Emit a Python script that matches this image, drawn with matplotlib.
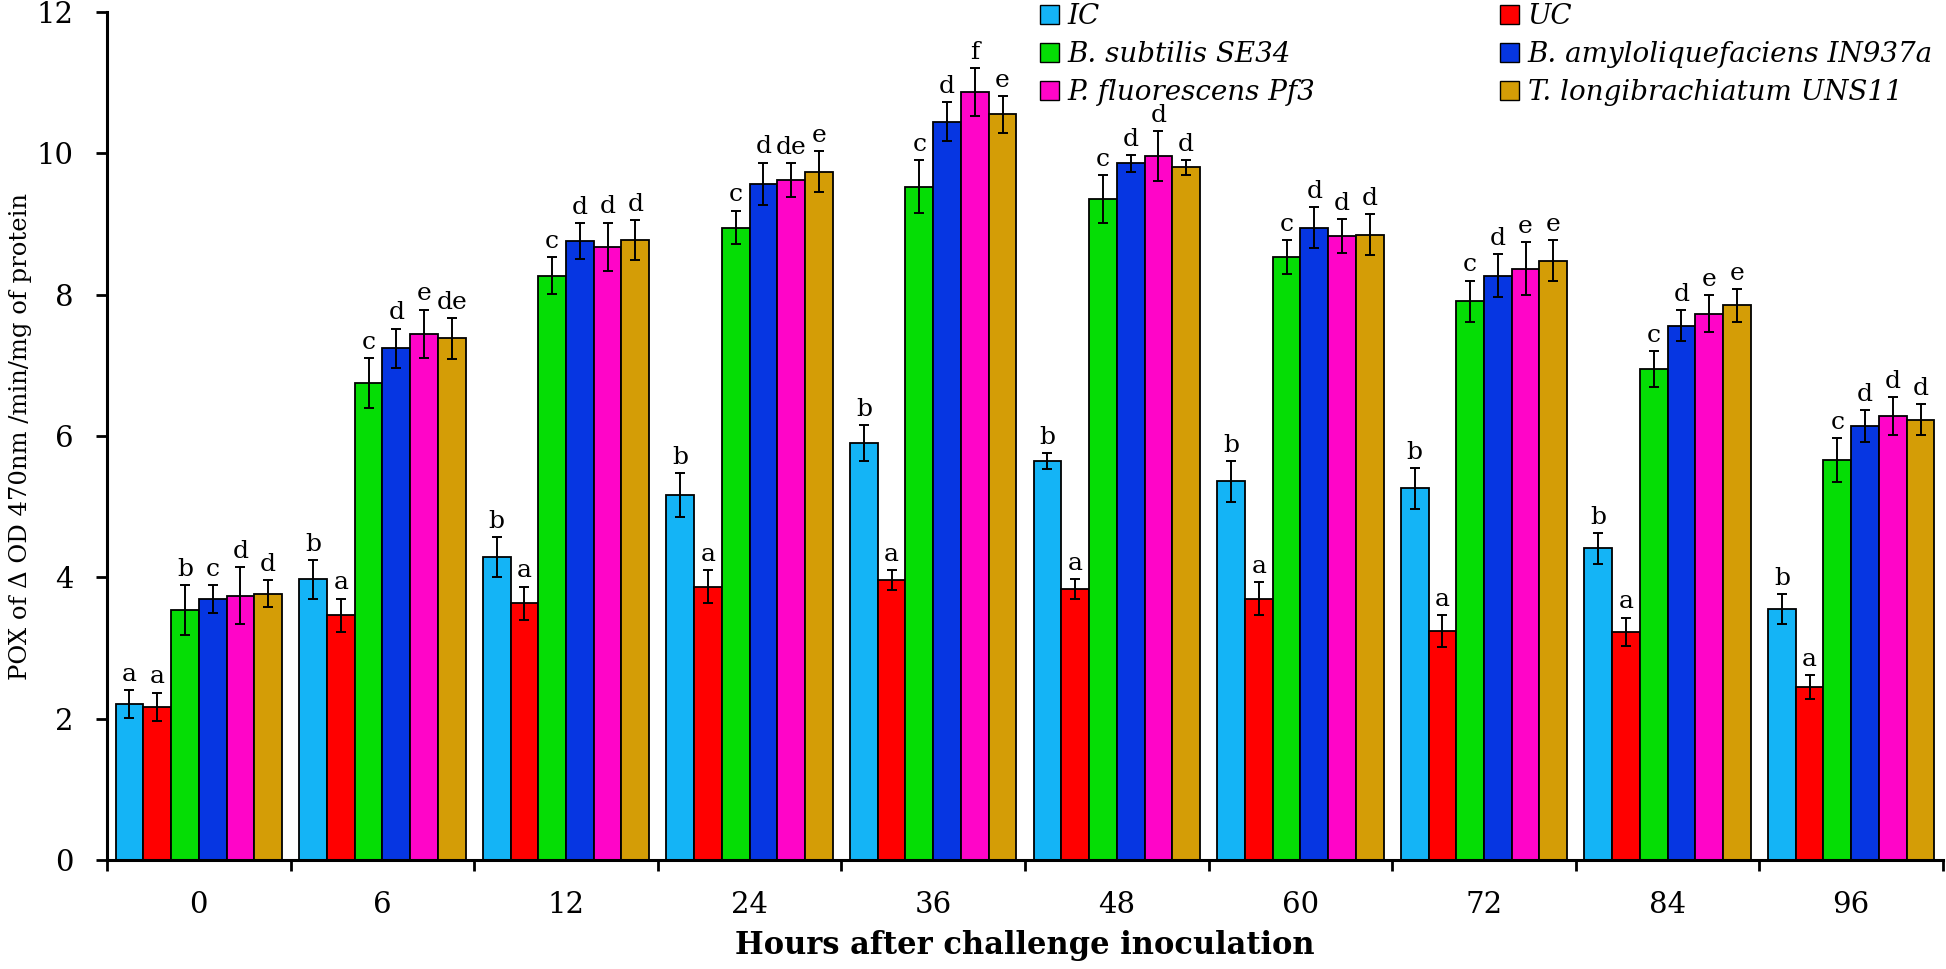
import matplotlib.pyplot as plt
from matplotlib.patches import Rectangle
import numpy as np

hours = ["0", "6", "12", "24", "36", "48", "60", "72", "84", "96"]
treatments = ["IC", "UC", "B. subtilis SE34", "B. amyloliquefaciens IN937a",
              "P. fluorescens Pf3", "T. longibrachiatum UNS11"]
colors = ["#14b4f6", "#ff0000", "#05dd05", "#0636e2", "#ff05c8", "#d49d06"]

# means per treatment, one value per sampling hour
ic = [2.21, 3.97, 4.29, 5.16, 5.90, 5.65, 5.36, 5.26, 4.41, 3.55]
uc = [2.17, 3.46, 3.63, 3.87, 3.96, 3.84, 3.70, 3.24, 3.23, 2.45]
bsub = [3.54, 6.75, 8.27, 8.95, 9.53, 9.35, 8.53, 7.91, 6.95, 5.66]
bamy = [3.69, 7.24, 8.76, 9.57, 10.45, 9.86, 8.95, 8.27, 7.56, 6.14]
pflu = [3.74, 7.45, 8.68, 9.62, 10.87, 9.96, 8.83, 8.37, 7.73, 6.28]
tlon = [3.77, 7.38, 8.77, 9.74, 10.55, 9.80, 8.85, 8.48, 7.85, 6.23]

# standard errors
ic_err = [0.20, 0.27, 0.28, 0.31, 0.26, 0.11, 0.29, 0.29, 0.22, 0.21]
uc_err = [0.20, 0.24, 0.24, 0.23, 0.14, 0.14, 0.23, 0.22, 0.20, 0.17]
bsub_err = [0.35, 0.35, 0.26, 0.24, 0.38, 0.34, 0.24, 0.29, 0.25, 0.31]
bamy_err = [0.20, 0.28, 0.25, 0.30, 0.27, 0.12, 0.29, 0.30, 0.22, 0.23]
pflu_err = [0.40, 0.34, 0.34, 0.24, 0.34, 0.35, 0.24, 0.37, 0.26, 0.27]
tlon_err = [0.19, 0.29, 0.28, 0.29, 0.26, 0.11, 0.29, 0.29, 0.23, 0.22]

# significance letters
ic_let = ["a", "b", "b", "b", "b", "b", "b", "b", "b", "b"]
uc_let = ["a"] * 10
bsub_let = ["b", "c", "c", "c", "c", "c", "c", "c", "c", "c"]
bamy_let = ["c", "d", "d", "d", "d", "d", "d", "d", "d", "d"]
pflu_let = ["d", "e", "d", "de", "f", "d", "d", "e", "e", "d"]
tlon_let = ["d", "de", "d", "e", "e", "d", "d", "e", "e", "d"]

means = [ic, uc, bsub, bamy, pflu, tlon]
errs = [ic_err, uc_err, bsub_err, bamy_err, pflu_err, tlon_err]
letters = [ic_let, uc_let, bsub_let, bamy_let, pflu_let, tlon_let]

plt.rcParams['font.family'] = ['DejaVu Serif']

fig = plt.figure(figsize=(19.46, 9.69), dpi=100)
ax = fig.add_axes([107 / 1946, 1 - 860 / 969, (1943 - 107) / 1946, 848 / 969])

x = np.arange(len(hours))
w = 0.151
for i in range(6):
    pos = x + (i - 2.5) * w
    ax.bar(pos, means[i], w, color=colors[i], edgecolor="black", linewidth=1.3, zorder=2)
    ax.errorbar(pos, means[i], yerr=errs[i], fmt="none", ecolor="black",
                elinewidth=1.4, capsize=3.6, capthick=1.4, zorder=3)
    for j in range(len(hours)):
        ax.annotate(letters[i][j], (pos[j], means[i][j] + errs[i][j]),
                    xytext=(0, 3), textcoords="offset points",
                    ha="center", va="bottom", fontsize=18)

ax.set_xlim(-0.5, 9.5)
ax.set_ylim(0, 12)
ax.set_yticks(np.arange(0, 13, 2))
ax.set_xticks(np.arange(-0.5, 10, 1))
ax.set_xticklabels([])
ax.set_xticks(x, minor=True)
ax.set_xticklabels(hours, minor=True)
ax.tick_params(axis="x", which="major", length=8, width=2)
ax.tick_params(axis="x", which="minor", length=0, pad=22, labelsize=21)
ax.tick_params(axis="y", length=8, width=2, pad=16, labelsize=21)
for s in ["top", "right"]:
    ax.spines[s].set_visible(False)
for s in ["left", "bottom"]:
    ax.spines[s].set_linewidth(2.2)

ax.set_ylabel("POX of \u0394 OD 470nm /min/mg of protein", fontsize=17.5)
ax.yaxis.set_label_coords(-0.041, 0.5)
ax.set_xlabel("Hours after challenge inoculation", fontsize=22, fontweight="bold", labelpad=8)

handles = [Rectangle((0, 0), 1, 1, facecolor=c, edgecolor="black", linewidth=1) for c in colors]
leg_kw = dict(frameon=False, prop={"style": "italic", "size": 20},
              handlelength=0.7, handleheight=0.7, handletextpad=0.3,
              labelspacing=0.4, borderpad=0, borderaxespad=0,
              loc="upper left", bbox_transform=fig.transFigure)
leg1 = ax.legend([handles[0], handles[2], handles[4]],
                 [treatments[0], treatments[2], treatments[4]],
                 bbox_to_anchor=(1040 / 1946, 1 - 3 / 969), **leg_kw)
ax.add_artist(leg1)
ax.legend([handles[1], handles[3], handles[5]],
          [treatments[1], treatments[3], treatments[5]],
          bbox_to_anchor=(1500 / 1946, 1 - 3 / 969), **leg_kw)

fig.savefig("out.png", dpi=100, facecolor="white")
